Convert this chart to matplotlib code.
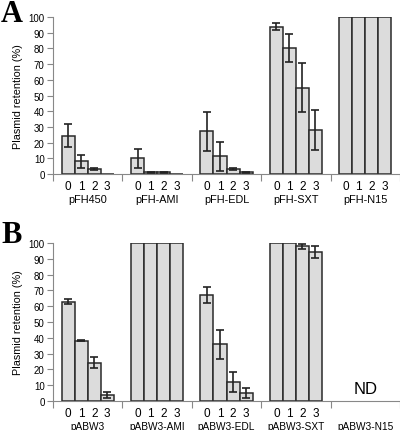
import numpy as np
import matplotlib.pyplot as plt

plt.rcParams['font.family'] = ['Liberation Sans', 'DejaVu Sans']

days = ["0", "1", "2", "3"]

names_a = ["pFH450", "pFH-AMI", "pFH-EDL", "pFH-SXT", "pFH-N15"]
vals_a = [[24.4, 8.0, 3.0, 0.0],
          [10.0, 1.0, 1.0, 0.0],
          [27.1, 11.2, 3.0, 1.0],
          [93.9, 80.3, 55.1, 28.0],
          [100, 100, 100, 100]]
errs_a = [[7.4, 4.2, 0.5, 0.0],
          [6.0, 0.4, 0.4, 0.0],
          [12.7, 9.0, 0.5, 0.3],
          [2.2, 8.7, 15.5, 12.5],
          [0, 0, 0, 0]]

names_b = ["pABW3", "pABW3-AMI", "pABW3-EDL", "pABW3-SXT", "pABW3-N15"]
vals_b = [[62.9, 38.1, 24.4, 4.0],
          [100, 100, 100, 100],
          [67.2, 35.8, 12.1, 5.1],
          [100, 100, 97.9, 94.3],
          None]
errs_b = [[1.8, 0.3, 3.2, 1.8],
          [0, 0, 0, 0],
          [5.0, 9.1, 6.5, 3.0],
          [0, 0, 1.5, 3.7],
          None]

bw = 0.1875


def panel(ax, names, vals, errs, name_size):
    centers = []
    labels = []
    for g in range(len(names)):
        ax.annotate(names[g], xy=(g + 0.5, 0), xycoords=("data", "axes fraction"),
                    xytext=(0, -14.5), textcoords="offset points",
                    ha="center", va="top", fontsize=name_size)
        if vals[g] is None:
            ax.text(g + 0.5, 8, "ND", ha="center", va="center", fontsize=12)
            continue
        xs = g + 0.125 + bw * (np.arange(4) + 0.5)
        centers.extend(xs)
        labels.extend(days)
        ax.bar(xs, vals[g], width=bw, color="#dcdcdc", edgecolor="#2a2a2a", linewidth=1.1)
        e = np.array(errs[g])
        m = e > 0
        if m.any():
            ax.errorbar(xs[m], np.array(vals[g])[m], yerr=e[m], fmt="none",
                        ecolor="#222222", elinewidth=1.2, capsize=3, capthick=1.2)
    ax.set_xlim(0, len(names))
    ax.set_ylim(0, 100)
    ax.set_yticks(range(0, 101, 10))
    ax.set_xticks(range(len(names) + 1))
    ax.set_xticklabels([])
    ax.set_xticks(centers, minor=True)
    ax.set_xticklabels(labels, minor=True, fontsize=8.5)
    ax.tick_params(axis="x", which="major", length=5, color="#888888")
    ax.tick_params(axis="x", which="minor", length=0, pad=4)
    ax.tick_params(axis="y", labelsize=7, length=4, color="#888888", pad=2)
    for s in ["top", "right"]:
        ax.spines[s].set_visible(False)
    for s in ["left", "bottom"]:
        ax.spines[s].set_color("#888888")
    ax.set_ylabel("Plasmid retention (%)", fontsize=7.8, labelpad=4)


fig = plt.figure(figsize=(4, 4.31), dpi=100)
ax_a = fig.add_axes([0.1325, 0.594, 0.8675, 0.364])
ax_b = fig.add_axes([0.1325, 0.067, 0.8675, 0.367])
panel(ax_a, names_a, vals_a, errs_a, 7.8)
panel(ax_b, names_b, vals_b, errs_b, 7.3)
fig.text(0.003, 1 - 22 / 431, "A", fontsize=22, fontweight="bold",
         family="Liberation Serif", ha="left", va="baseline")
fig.text(0.003, 1 - 243 / 431, "B", fontsize=22, fontweight="bold",
         family="Liberation Serif", ha="left", va="baseline")
fig.savefig("out.png", dpi=100)
